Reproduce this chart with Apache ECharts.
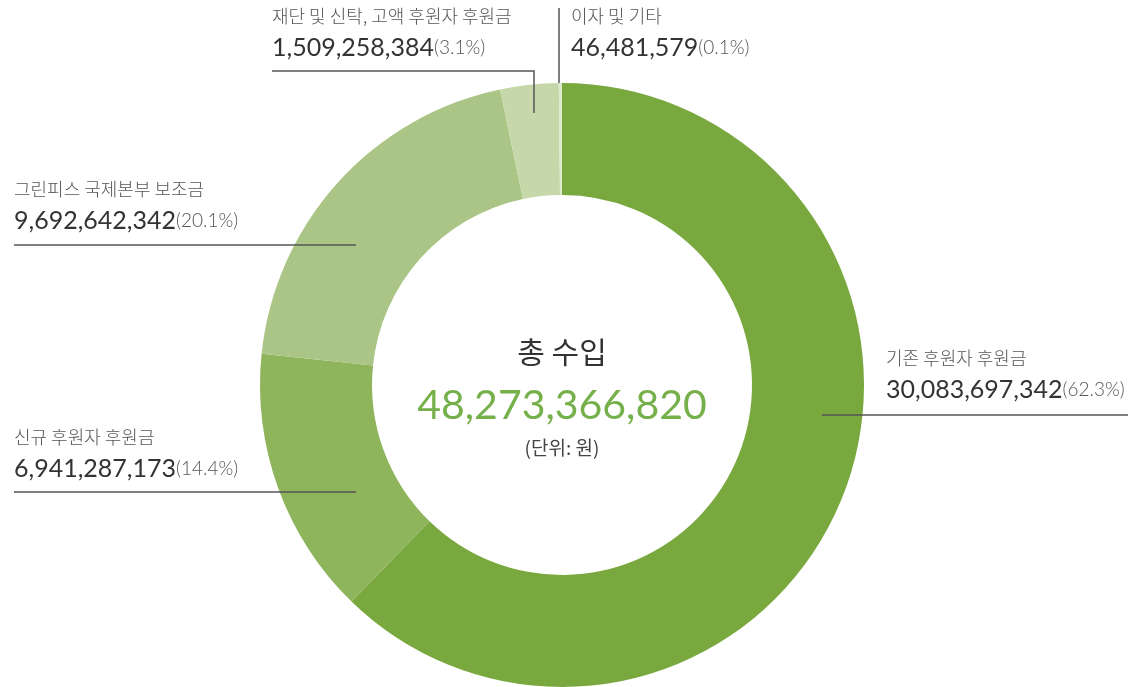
<!DOCTYPE html>
<html>
<head>
<meta charset="utf-8">
<title>총 수입</title>
<script src="https://cdn.jsdelivr.net/npm/echarts@6/dist/echarts.min.js"></script>
<style>
html,body{margin:0;padding:0;background:#fff;}
#main{width:1130px;height:687px;}
</style>
</head>
<body>
<div id="main"></div>
<script>
// 수입 항목 (단위: 원)
var names = ["기존 후원자 후원금", "신규 후원자 후원금", "그린피스 국제본부 보조금", "재단 및 신탁, 고액 후원자 후원금", "이자 및 기타"];
var values = [30083697342, 6941287173, 9692642342, 1509258384, 46481579];
var colors = ["#79a83e", "#8eb45c", "#aac585", "#c6d8a9", "#dfe9cf"];
var totalText = "48,273,366,820";

// label text box top-left + leader line per slice
var labelPos = [[886, 343], [14, 422], [14, 174], [272, 1], [571, 1]];
var linePts = [
    [[822, 415], [1128, 415]],
    [[356, 492], [14, 492]],
    [[356, 245], [14, 245]],
    [[534, 113], [534, 71], [272, 71]],
    [[559, 83], [559, 8]]
];

var total = 0;
for (var i = 0; i < values.length; ++i) total += values[i];

var data = [];
for (var j = 0; j < values.length; ++j) {
    data.push({ name: names[j], value: values[j], itemStyle: { color: colors[j] } });
}

var font = "Lato, 'Noto Sans CJK KR', sans-serif";
var krFont = "'Noto Sans CJK KR', sans-serif";

var graphics = [
    { type: "text", x: 562, y: 352, z: 10, style: { text: "총 수입", font: "400 30px " + krFont, fill: "#333", align: "center", verticalAlign: "middle" } },
    { type: "text", x: 562, y: 406, z: 10, style: { text: totalText, font: "400 41px " + font, fill: "#76b04a", align: "center", verticalAlign: "middle" } },
    { type: "text", x: 562, y: 448, z: 10, style: { text: "(단위: 원)", font: "400 19px " + krFont, fill: "#444", align: "center", verticalAlign: "middle" } }
];
// leader lines drawn above the ring
for (var m = 0; m < linePts.length; ++m) {
    graphics.push({
        type: "polyline", z: 10,
        shape: { points: linePts[m] },
        style: { stroke: "#555", lineWidth: 1.5, fill: null }
    });
}

var chart = echarts.init(document.getElementById("main"));
var option = {
    backgroundColor: "#fff",
    animation: false,
    graphic: graphics,
    series: [{
        type: "pie",
        center: [562, 385],
        radius: [190, 302],
        startAngle: 90,
        clockwise: true,
        minAngle: 0.6,
        itemStyle: { borderWidth: 0 },
        emphasis: { disabled: true },
        data: data,
        label: {
            show: true,
            position: "outside",
            fontFamily: font,
            overflow: "none",
            width: 300,
            formatter: function (p) {
                var pct = (p.value / total * 100).toFixed(1);
                return "{n|" + p.name + "}\n{v|" + p.value.toLocaleString("en-US") + "}{p|(" + pct + "%)}";
            },
            rich: {
                n: { fontSize: 18, fontWeight: 300, color: "#555", lineHeight: 31, fontFamily: krFont },
                v: { fontSize: 25, fontWeight: 400, color: "#333", lineHeight: 32, fontFamily: font },
                p: { fontSize: 19, fontWeight: 300, color: "#555", lineHeight: 32, fontFamily: font }
            }
        },
        labelLine: { show: false },
        labelLayout: function (params) {
            var k = params.dataIndex;
            return {
                x: labelPos[k][0],
                y: labelPos[k][1],
                align: "left",
                verticalAlign: "top"
            };
        }
    }]
};
chart.setOption(option);
</script>
</body>
</html>
